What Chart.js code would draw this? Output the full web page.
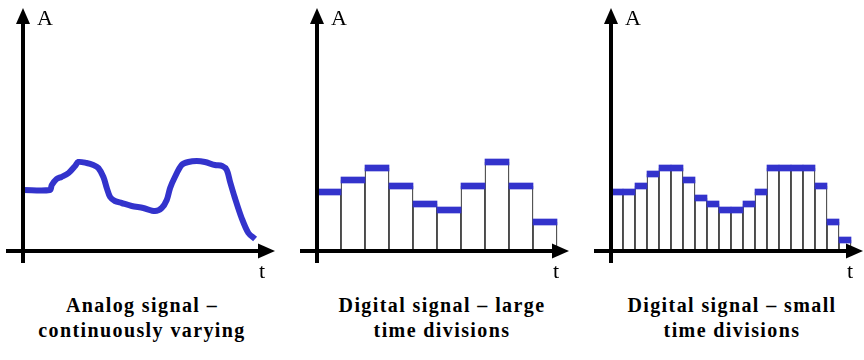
<!DOCTYPE html>
<html>
<head>
<meta charset="utf-8">
<script src="https://cdn.jsdelivr.net/npm/chart.js@4.4.1/dist/chart.umd.min.js"></script>
<style>
  body { margin: 0; background: #fff; width: 864px; height: 360px; overflow: hidden; position: relative; }
  canvas { position: absolute; top: 0; }
  .title { position: absolute; top: 293px; width: 290px; text-align: center; color: #000;
           font-family: "Liberation Serif", "DejaVu Serif", serif; font-weight: bold;
           font-size: 20px; line-height: 25px; letter-spacing: 1.4px; }
</style>
</head>
<body>
<canvas id="analogChart" width="276" height="285" style="left:0px"></canvas>
<canvas id="largeChart" width="276" height="285" style="left:294px"></canvas>
<canvas id="smallChart" width="276" height="285" style="left:588px"></canvas>
<div class="title" style="left:-3px">Analog signal –<br>continuously varying</div>
<div class="title" style="left:297px">Digital signal – large<br>time divisions</div>
<div class="title" style="left:587px">Digital signal – small<br>time divisions</div>
<script>
// analog curve, t in time units, A in amplitude units
var analogT = [0, 1.12, 1.2, 1.4, 1.6, 1.9, 2.17, 2.3, 2.65, 2.93, 3.14, 3.35, 3.49, 3.63, 3.83, 4.11, 4.53, 5.01, 5.5, 5.78, 5.99, 6.13, 6.33, 6.61, 6.89, 7.24, 7.58, 8.0, 8.3, 8.49, 8.63, 8.83, 9.11, 9.39, 9.67];
var analogA = [61, 61, 66, 72, 74, 78, 85, 89, 88, 86, 83, 74, 63, 54, 50, 48, 45, 43, 40, 43, 51, 63, 74, 86, 89, 90, 89, 86, 85, 81, 69, 53, 33, 18, 12];

// sampled levels, one per time division
var largeStep = 1;
var largeLevels = [59, 71, 83, 65, 47, 41, 65, 89, 65, 29];
var smallStep = 0.5;
var smallLevels = [59, 59, 65, 77, 83, 83, 71, 53, 47, 41, 41, 47, 59, 83, 83, 83, 83, 65, 29, 11];

var blue = "rgb(51, 51, 204)";
var capHalf = 3;

var axesPlugin = {
  id: "signalAxes",
  afterDatasetsDraw: function(chart) {
    var c = chart.ctx;
    var x0 = chart.scales.x.getPixelForValue(0);
    var y0 = chart.scales.y.getPixelForValue(0);
    c.save();
    c.fillStyle = "#000";
    c.strokeStyle = "#000";
    c.lineWidth = 4;
    c.beginPath();
    c.moveTo(x0, y0 + 12);
    c.lineTo(x0, 20);
    c.moveTo(x0 - 17, y0);
    c.lineTo(x0 + 238, y0);
    c.stroke();
    // arrow heads
    c.beginPath();
    c.moveTo(x0, 8);
    c.lineTo(x0 - 7, 24);
    c.lineTo(x0 + 7, 24);
    c.closePath();
    c.fill();
    c.beginPath();
    c.moveTo(x0 + 252, y0);
    c.lineTo(x0 + 235, y0 - 7.5);
    c.lineTo(x0 + 235, y0 + 7.5);
    c.closePath();
    c.fill();
    c.font = '22px "Liberation Serif", serif';
    c.textBaseline = "alphabetic";
    c.fillText("A", x0 + 14, 25);
    c.fillText("t", x0 + 236, 278);
    c.restore();
  }
};

function baseOptions() {
  return {
    responsive: false,
    animation: false,
    devicePixelRatio: 1,
    layout: { padding: 0 },
    plugins: { legend: { display: false }, tooltip: { enabled: false } },
    scales: {
      x: { type: "linear", display: false, offset: false, min: -23 / 24, max: 253 / 24 },
      y: { type: "linear", display: false, min: -34, max: 251 }
    }
  };
}

new Chart(document.getElementById("analogChart").getContext("2d"), {
  type: "line",
  data: {
    datasets: [{
      data: analogT.map(function(t, i) { return { x: t, y: analogA[i] }; }),
      borderColor: blue,
      borderWidth: 6,
      pointRadius: 0,
      tension: 0.3,
      borderJoinStyle: "round"
    }]
  },
  options: baseOptions(),
  plugins: [axesPlugin]
});

function stepChart(id, levels, step) {
  var caps = levels.map(function(v, i) { return { x: (i + 0.5) * step, y: [v - capHalf, v + capHalf] }; });
  var bodies = levels.map(function(v, i) { return { x: (i + 0.5) * step, y: [0, v] }; });
  new Chart(document.getElementById(id).getContext("2d"), {
    type: "bar",
    data: {
      datasets: [{
        data: caps,
        backgroundColor: blue,
        borderWidth: 0,
        grouped: false,
        barPercentage: 1,
        categoryPercentage: 1,
        order: 0
      }, {
        data: bodies,
        backgroundColor: "#fff",
        borderColor: "#000",
        borderWidth: { left: 1, right: 1, top: 0, bottom: 0 },
        borderSkipped: false,
        grouped: false,
        barPercentage: 1,
        categoryPercentage: 1,
        order: 1
      }]
    },
    options: baseOptions(),
    plugins: [axesPlugin]
  });
}

stepChart("largeChart", largeLevels, largeStep);
stepChart("smallChart", smallLevels, smallStep);
</script>
</body>
</html>
